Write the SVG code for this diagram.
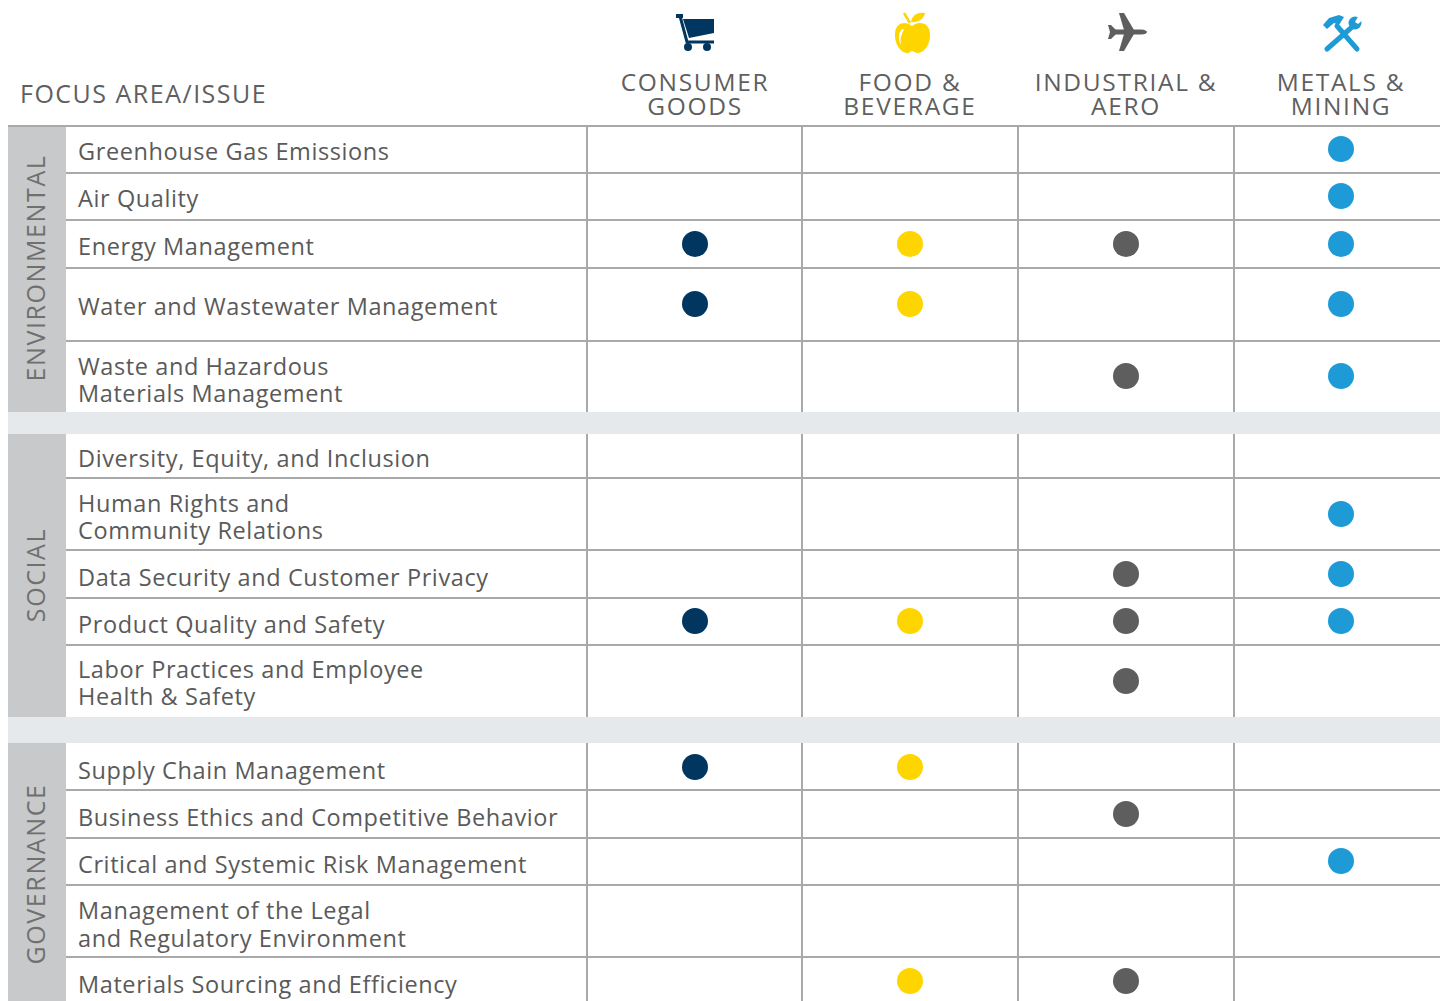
<svg xmlns="http://www.w3.org/2000/svg" width="1440" height="1001" viewBox="0 0 1440 1001">
<style>
.hdr{font-family:"Open Sans","Liberation Sans",sans-serif;font-size:24.5px;letter-spacing:1.7px;fill:#5f5f5f;text-anchor:middle}
.focus{font-family:"Open Sans","Liberation Sans",sans-serif;font-size:25px;letter-spacing:1.5px;fill:#5f5f5f}
.lbl{font-family:"Open Sans","Liberation Sans",sans-serif;font-size:23.5px;letter-spacing:0.6px;fill:#5a5a5a}
.sec{font-family:"Open Sans","Liberation Sans",sans-serif;font-size:25px;letter-spacing:1.6px;fill:#707070;text-anchor:middle}
.ln{stroke:#a9a9a9;stroke-width:2;fill:none}
.c1{fill:#003660}.c2{fill:#ffd500}.c3{fill:#5e5e5e}.c4{fill:#1e9bd7}
</style>
<rect width="1440" height="1001" fill="#ffffff"/>

<g id="header">
<text class="focus" x="20" y="103">FOCUS AREA/ISSUE</text>
<g id="col-consumer">
<rect x="676" y="14" width="7" height="4" class="c1"/>
<polyline points="680,16 687,42 714,42" fill="none" stroke="#003660" stroke-width="3"/>
<polygon points="683,19 714,19 714,33 689,38" class="c1"/>
<circle cx="688" cy="47" r="4" class="c1"/>
<circle cx="707" cy="47" r="4" class="c1"/>
<text class="hdr" x="695" y="91">CONSUMER</text>
<text class="hdr" x="695" y="115">GOODS</text>
</g>
<g id="col-food">
<path d="M912 26 C906 21 896 22 895 33 C894 44 901 53 907 53 C910 53 911 51 912 51 C913 51 915 53 918 53 C924 53 931 44 930 33 C929 22 918 21 912 26 Z" class="c2"/>
<path d="M911 22 C912 15 918 12 925 13 C924 19 918 23 911 22 Z" class="c2"/>
<line x1="904" y1="13" x2="910" y2="23" stroke="#ffd500" stroke-width="2.5"/>
<path d="M902 29 C898 33 898 40 901 45 C900 40 901 34 904 30 Z" fill="#ffffff"/>
<text class="hdr" x="910" y="91">FOOD &amp;</text>
<text class="hdr" x="910" y="115">BEVERAGE</text>
</g>
<g id="col-industrial">
<path d="M1112 29.5 L1141 29.5 C1145 29.5 1147 31 1147 32 C1147 33 1145 34.5 1141 34.5 L1112 34.5 Z" class="c3"/>
<polygon points="1119,13 1124,13 1134,30 1124,30" class="c3"/>
<polygon points="1119,51 1124,51 1134,34 1124,34" class="c3"/>
<polygon points="1108,25 1111,25 1116,30 1116,34 1111,39 1108,39 1110,32" class="c3"/>
<text class="hdr" x="1126" y="91">INDUSTRIAL &amp;</text>
<text class="hdr" x="1126" y="115">AERO</text>
</g>
<g id="col-metals">
<line x1="1337" y1="26" x2="1357" y2="49" stroke="#1e9bd7" stroke-width="5" stroke-linecap="round"/>
<polygon points="1323,25 1329,18 1339,15 1344,17 1339,25 1334,23 1327,29" class="c4"/>
<line x1="1352" y1="27" x2="1327" y2="49" stroke="#1e9bd7" stroke-width="5" stroke-linecap="round"/>
<circle cx="1355" cy="23" r="6.5" class="c4"/>
<polygon points="1355,22 1359,15 1364,19 1358,24" fill="#ffffff"/>
<text class="hdr" x="1341" y="91">METALS &amp;</text>
<text class="hdr" x="1341" y="115">MINING</text>
</g>
</g>

<g id="sections">
<rect x="8" y="126" width="58" height="286" fill="#c8c9cb"/>
<rect x="8" y="412" width="1432" height="22" fill="#e6e9ec"/>
<rect x="8" y="434" width="58" height="283" fill="#c8c9cb"/>
<rect x="8" y="717" width="1432" height="26" fill="#e6e9ec"/>
<rect x="8" y="743" width="58" height="258" fill="#c8c9cb"/>
<text class="sec" transform="translate(45,268) rotate(-90)">ENVIRONMENTAL</text>
<text class="sec" transform="translate(45,575) rotate(-90)">SOCIAL</text>
<text class="sec" transform="translate(45,874) rotate(-90)">GOVERNANCE</text>
</g>

<g id="connectors">
<line class="ln" x1="8" y1="126" x2="1440" y2="126"/>
<line class="ln" x1="66" y1="173" x2="1440" y2="173"/>
<line class="ln" x1="66" y1="220" x2="1440" y2="220"/>
<line class="ln" x1="66" y1="268" x2="1440" y2="268"/>
<line class="ln" x1="66" y1="341" x2="1440" y2="341"/>
<line class="ln" x1="66" y1="478" x2="1440" y2="478"/>
<line class="ln" x1="66" y1="550" x2="1440" y2="550"/>
<line class="ln" x1="66" y1="598" x2="1440" y2="598"/>
<line class="ln" x1="66" y1="645" x2="1440" y2="645"/>
<line class="ln" x1="66" y1="790" x2="1440" y2="790"/>
<line class="ln" x1="66" y1="838" x2="1440" y2="838"/>
<line class="ln" x1="66" y1="885" x2="1440" y2="885"/>
<line class="ln" x1="66" y1="957" x2="1440" y2="957"/>
<g id="vlines">
<line class="ln" x1="587" y1="126" x2="587" y2="412"/><line class="ln" x1="802" y1="126" x2="802" y2="412"/><line class="ln" x1="1018" y1="126" x2="1018" y2="412"/><line class="ln" x1="1234" y1="126" x2="1234" y2="412"/>
<line class="ln" x1="587" y1="434" x2="587" y2="717"/><line class="ln" x1="802" y1="434" x2="802" y2="717"/><line class="ln" x1="1018" y1="434" x2="1018" y2="717"/><line class="ln" x1="1234" y1="434" x2="1234" y2="717"/>
<line class="ln" x1="587" y1="743" x2="587" y2="1001"/><line class="ln" x1="802" y1="743" x2="802" y2="1001"/><line class="ln" x1="1018" y1="743" x2="1018" y2="1001"/><line class="ln" x1="1234" y1="743" x2="1234" y2="1001"/>
</g>
</g>

<g id="row-ghg"><text class="lbl" x="78" y="160">Greenhouse Gas Emissions</text><circle class="c4" cx="1341" cy="149" r="13"/></g>
<g id="row-air"><text class="lbl" x="78" y="207">Air Quality</text><circle class="c4" cx="1341" cy="196" r="13"/></g>
<g id="row-energy"><text class="lbl" x="78" y="255">Energy Management</text><circle class="c1" cx="695" cy="244" r="13"/><circle class="c2" cx="910" cy="244" r="13"/><circle class="c3" cx="1126" cy="244" r="13"/><circle class="c4" cx="1341" cy="244" r="13"/></g>
<g id="row-water"><text class="lbl" x="78" y="315">Water and Wastewater Management</text><circle class="c1" cx="695" cy="304" r="13"/><circle class="c2" cx="910" cy="304" r="13"/><circle class="c4" cx="1341" cy="304" r="13"/></g>
<g id="row-waste"><text class="lbl" x="78" y="375">Waste and Hazardous</text><text class="lbl" x="78" y="402">Materials Management</text><circle class="c3" cx="1126" cy="376" r="13"/><circle class="c4" cx="1341" cy="376" r="13"/></g>

<g id="row-dei"><text class="lbl" x="78" y="467">Diversity, Equity, and Inclusion</text></g>
<g id="row-human"><text class="lbl" x="78" y="512">Human Rights and</text><text class="lbl" x="78" y="539">Community Relations</text><circle class="c4" cx="1341" cy="514" r="13"/></g>
<g id="row-data"><text class="lbl" x="78" y="586">Data Security and Customer Privacy</text><circle class="c3" cx="1126" cy="574" r="13"/><circle class="c4" cx="1341" cy="574" r="13"/></g>
<g id="row-product"><text class="lbl" x="78" y="633">Product Quality and Safety</text><circle class="c1" cx="695" cy="621" r="13"/><circle class="c2" cx="910" cy="621" r="13"/><circle class="c3" cx="1126" cy="621" r="13"/><circle class="c4" cx="1341" cy="621" r="13"/></g>
<g id="row-labor"><text class="lbl" x="78" y="678">Labor Practices and Employee</text><text class="lbl" x="78" y="705">Health &amp; Safety</text><circle class="c3" cx="1126" cy="681" r="13"/></g>

<g id="row-supply"><text class="lbl" x="78" y="779">Supply Chain Management</text><circle class="c1" cx="695" cy="767" r="13"/><circle class="c2" cx="910" cy="767" r="13"/></g>
<g id="row-ethics"><text class="lbl" x="78" y="826">Business Ethics and Competitive Behavior</text><circle class="c3" cx="1126" cy="814" r="13"/></g>
<g id="row-risk"><text class="lbl" x="78" y="873">Critical and Systemic Risk Management</text><circle class="c4" cx="1341" cy="861" r="13"/></g>
<g id="row-legal"><text class="lbl" x="78" y="919">Management of the Legal</text><text class="lbl" x="78" y="947">and Regulatory Environment</text></g>
<g id="row-materials"><text class="lbl" x="78" y="993">Materials Sourcing and Efficiency</text><circle class="c2" cx="910" cy="981" r="13"/><circle class="c3" cx="1126" cy="981" r="13"/></g>
</svg>
